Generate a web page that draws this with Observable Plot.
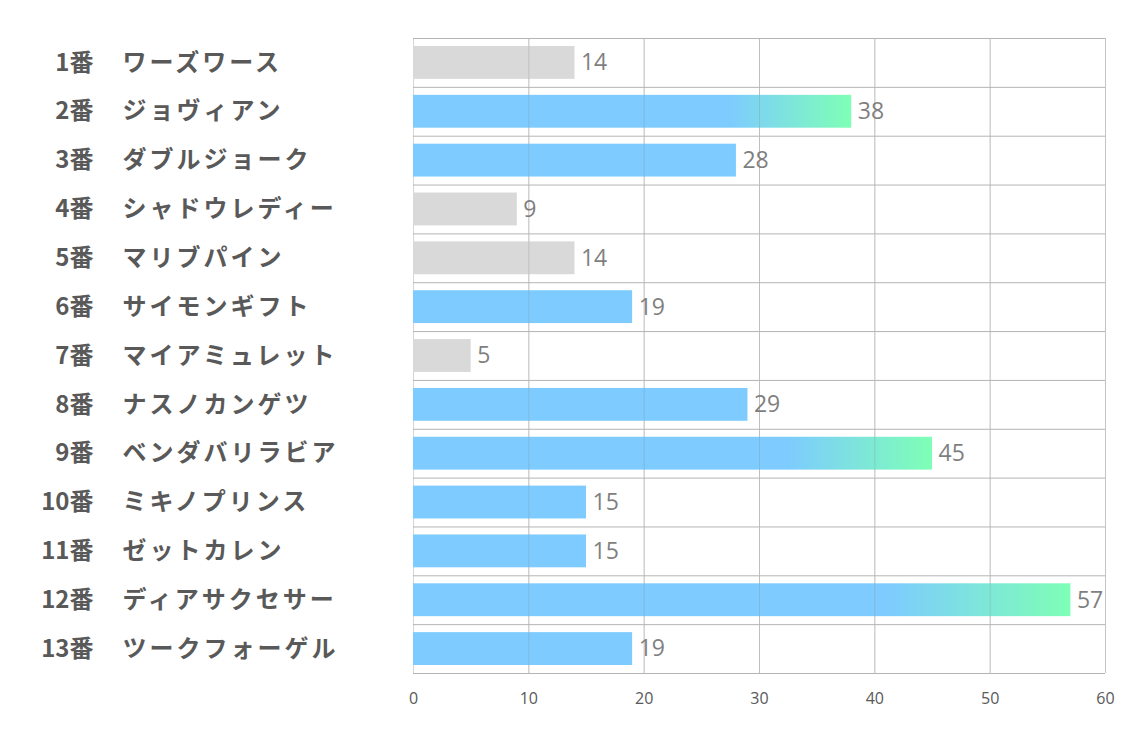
<!DOCTYPE html>
<html>
<head>
<meta charset="utf-8">
<script src="https://cdn.jsdelivr.net/npm/d3@7"></script>
<script src="https://cdn.jsdelivr.net/npm/@observablehq/plot@0.6"></script>
<style>
  html, body { margin: 0; padding: 0; background: #fff; }
  #chart svg { display: block; }
</style>
</head>
<body>
<div id="chart"></div>
<script>
const numbers = ["1番","2番","3番","4番","5番","6番","7番","8番","9番","10番","11番","12番","13番"];
const names = ["ワーズワース","ジョヴィアン","ダブルジョーク","シャドウレディー","マリブパイン","サイモンギフト","マイアミュレット","ナスノカンゲツ","ベンダバリラビア","ミキノプリンス","ゼットカレン","ディアサクセサー","ツークフォーゲル"];
const values = [14,38,28,9,14,19,5,29,45,15,15,57,19];
const xTicks = [0,10,20,30,40,50,60];

const data = names.map((name, i) => ({num: numbers[i], name, value: values[i]}));
const grey = data.filter(d => d.value < 15);
const blue = data.filter(d => d.value >= 15 && d.value < 30);
const grad = data.filter(d => d.value >= 30);

const jp = "'Noto Sans CJK JP', 'Noto Sans', sans-serif";
const inset = 8;
const plotH = 737 - 38 - 64;

const chart = Plot.plot({
  width: 1134,
  height: 737,
  marginTop: 38,
  marginBottom: 64,
  marginLeft: 413,
  marginRight: 29,
  style: {fontFamily: "'Open Sans', 'Noto Sans', sans-serif", background: "#fff"},
  x: {domain: [0, 60], axis: null},
  y: {domain: names, padding: 0, round: false, axis: null},
  marks: [
    Plot.ruleX(xTicks, {stroke: "#d6d6d6", strokeWidth: 1}),
    Plot.barX(grey, {x: "value", y: "name", fill: "#d9d9d9", insetTop: inset, insetBottom: inset}),
    Plot.barX(blue, {x: "value", y: "name", fill: "#7dcbff", insetTop: inset, insetBottom: inset}),
    Plot.barX(grad, {x: "value", y: "name", fill: "url(#barGrad)", insetTop: inset, insetBottom: inset}),
    Plot.ruleX(xTicks.slice(1, -1), {stroke: "#8a8a8a", strokeOpacity: 0.3, strokeWidth: 1}),
    Plot.ruleX([60], {stroke: "#c4c4c4", strokeWidth: 1}),
    Plot.ruleY(names, {y: d => d, stroke: "#b4b4b4", strokeWidth: 1, dy: -plotH / 26, x1: 0, x2: 60}),
    Plot.ruleY(names.slice(-1), {y: d => d, stroke: "#b4b4b4", strokeWidth: 1, dy: plotH / 26, x1: 0, x2: 60}),
    Plot.text(xTicks, {x: d => d, text: d => String(d), frameAnchor: "bottom", lineAnchor: "middle", dy: 25, fontSize: 16, fill: "#595959"}),
    Plot.text(data, {x: "value", y: "name", text: d => String(d.value), textAnchor: "start", dx: 6, fontSize: 23, fill: "#7f7f7f"}),
    Plot.text(data, {y: "name", text: "num", frameAnchor: "left", textAnchor: "end", dx: -320, fontSize: 24, fontWeight: "bold", fill: "#595959", fontFamily: jp}),
    Plot.text(data, {y: "name", text: "name", frameAnchor: "left", textAnchor: "start", dx: -291, fontSize: 24, fontWeight: "bold", fill: "#595959", fontFamily: jp}),
  ]
});

const svg = d3.select(chart);
const defs = svg.insert("defs", ":first-child");
const lg = defs.append("linearGradient").attr("id", "barGrad").attr("x1", "0").attr("x2", "1").attr("y1", "0").attr("y2", "0");
lg.append("stop").attr("offset", "0.72").attr("stop-color", "#7dcbff");
lg.append("stop").attr("offset", "1").attr("stop-color", "#7effb6");
document.getElementById("chart").appendChild(chart);
svg.selectAll("text").filter(function() { return names.includes(this.textContent); }).style("letter-spacing", "3px");
</script>
</body>
</html>
